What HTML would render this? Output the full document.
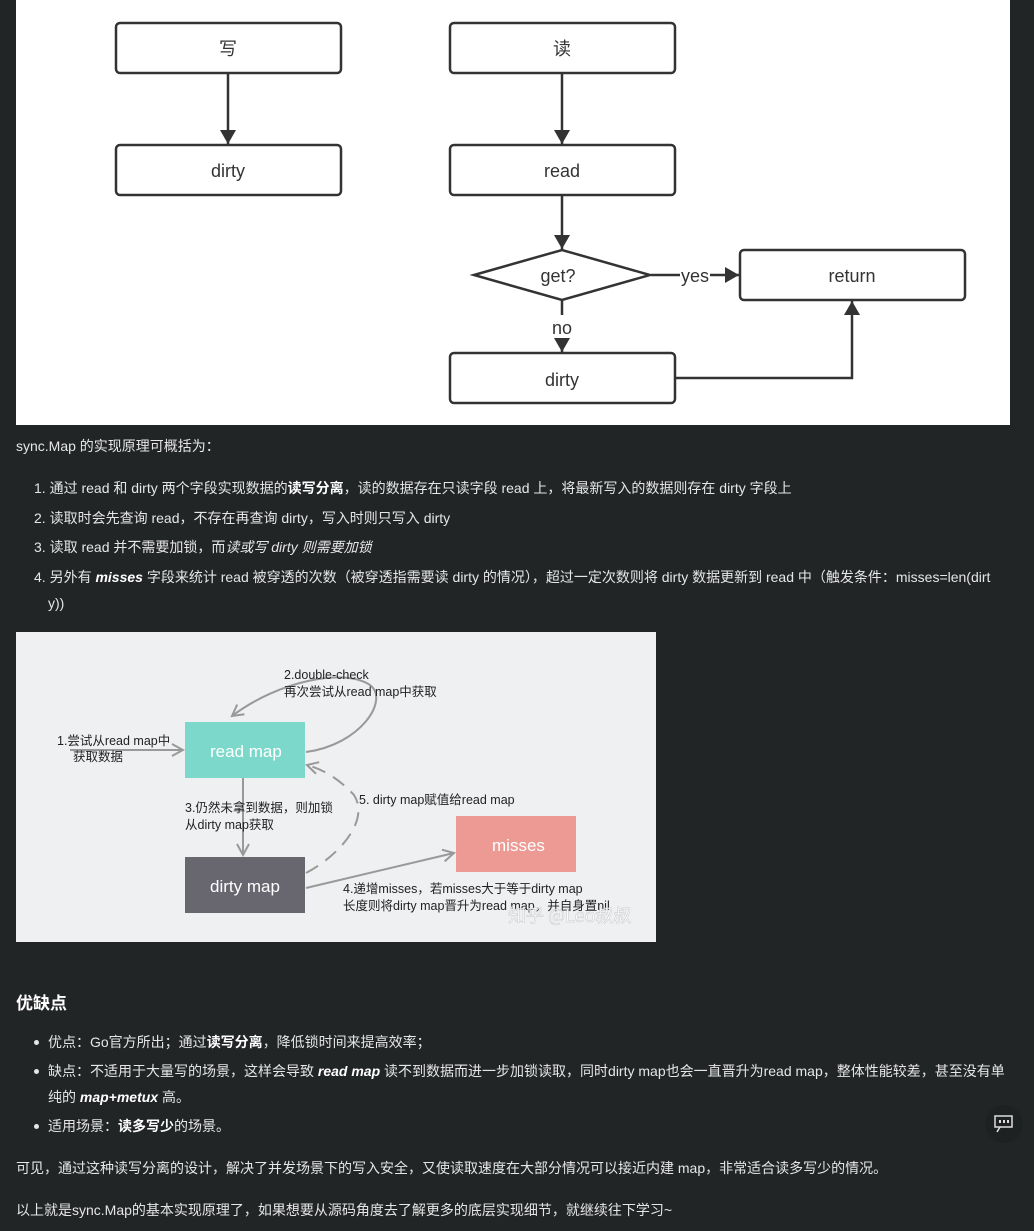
<!DOCTYPE html>
<html><head><meta charset="utf-8"><style>
body{margin:0;background:#222526;width:1034px;height:1231px;overflow:hidden;position:relative;font-family:"Liberation Sans","Noto Sans CJK SC",sans-serif;color:#e6e6e6;font-size:14px}
.t{position:absolute;white-space:nowrap;line-height:20px}
b{color:#fff}
.dot{position:absolute;width:5px;height:5px;border-radius:50%;background:#e6e6e6}
</style></head><body>
<svg style="position:absolute;left:0;top:0" width="1034" height="960">
<defs>
<marker id="a" markerWidth="14" markerHeight="18" refX="14" refY="8" orient="auto" markerUnits="userSpaceOnUse"><path d="M0,0 L14,8 L0,16z" fill="#333"/></marker>
<marker id="g" markerWidth="14" markerHeight="14" refX="12" refY="7" orient="auto" markerUnits="userSpaceOnUse"><path d="M1,1 L12,7 L1,13" fill="none" stroke="#999" stroke-width="2"/></marker>
</defs>
<rect x="16" y="0" width="994" height="425" fill="#fff"/>
<g fill="#fff" stroke="#333" stroke-width="2.5">
<rect x="116" y="23" width="225" height="50" rx="4"/>
<rect x="116" y="145" width="225" height="50" rx="4"/>
<rect x="450" y="23" width="225" height="50" rx="4"/>
<rect x="450" y="145" width="225" height="50" rx="4"/>
<rect x="740" y="250" width="225" height="50" rx="4"/>
<rect x="450" y="353" width="225" height="50" rx="4"/>
<path d="M474,275 L562,250 L650,275 L562,300z"/>
</g>
<g stroke="#333" stroke-width="2.5" fill="none">
<line x1="228" y1="74" x2="228" y2="144" marker-end="url(#a)"/>
<line x1="562" y1="74" x2="562" y2="144" marker-end="url(#a)"/>
<line x1="562" y1="196" x2="562" y2="249" marker-end="url(#a)"/>
<line x1="651" y1="275" x2="680" y2="275"/>
<line x1="710" y1="275" x2="739" y2="275" marker-end="url(#a)"/>
<line x1="562" y1="301" x2="562" y2="315"/>
<line x1="562" y1="340" x2="562" y2="352" marker-end="url(#a)"/>
<polyline points="676,378 852,378 852,301" marker-end="url(#a)"/>
</g>
<g font-size="18" fill="#333" text-anchor="middle" font-family="Liberation Sans,Noto Sans CJK SC,sans-serif">
<text x="228" y="55">写</text><text x="228" y="177">dirty</text>
<text x="562" y="55">读</text><text x="562" y="177">read</text>
<text x="558" y="282">get?</text><text x="852" y="282">return</text>
<text x="562" y="386">dirty</text>
<text x="695" y="282">yes</text><text x="562" y="334">no</text>
</g>
<rect x="16" y="632" width="640" height="310" fill="#eff0f2"/>
<rect x="185" y="722" width="120" height="56" fill="#7dd8cc"/>
<rect x="185" y="857" width="120" height="56" fill="#686770"/>
<rect x="456" y="816" width="120" height="56" fill="#ed9a94"/>
<g stroke="#999" stroke-width="2" fill="none">
<line x1="70" y1="750" x2="183" y2="750" marker-end="url(#g)"/>
<path d="M306,752 C360,745 390,700 370,685 C345,668 280,680 232,716" marker-end="url(#g)"/>
<line x1="243" y1="778" x2="243" y2="855" marker-end="url(#g)"/>
<path d="M306,873 C340,855 370,820 354,795 C340,780 325,770 307,765" stroke-dasharray="14,9" marker-end="url(#g)"/>
<line x1="306" y1="888" x2="454" y2="853" marker-end="url(#g)"/>
</g>
<g font-size="17" fill="#fff" font-family="Liberation Sans,sans-serif">
<text x="210" y="757">read map</text><text x="210" y="892">dirty map</text><text x="492" y="851">misses</text>
</g>
<g font-size="12.5" fill="#222" font-family="Liberation Sans,Noto Sans CJK SC,sans-serif">
<text x="284" y="679">2.double-check</text><text x="284" y="696">再次尝试从read map中获取</text>
<text x="57" y="745">1.尝试从read map中</text><text x="73" y="761">获取数据</text>
<text x="185" y="812">3.仍然未拿到数据，则加锁</text><text x="185" y="829">从dirty map获取</text>
<text x="359" y="804">5. dirty map赋值给read map</text>
<text x="343" y="893">4.递增misses，若misses大于等于dirty map</text><text x="343" y="910">长度则将dirty map晋升为read map，并自身置nil</text>
</g>
<text x="508" y="922" font-size="18" fill="#fff" opacity="0.9" stroke="#bbb" stroke-width="0.4" font-family="Noto Sans CJK SC,sans-serif">知乎 @Leo叔叔</text>
</svg>
<div class="t" style="left:16px;top:436px">sync.Map 的实现原理可概括为：</div>
<div class="t" style="left:34px;top:478px">1. 通过 read 和 dirty 两个字段实现数据的<b>读写分离</b>，读的数据存在只读字段 read 上，将最新写入的数据则存在 dirty 字段上</div>
<div class="t" style="left:34px;top:508px">2. 读取时会先查询 read，不存在再查询 dirty，写入时则只写入 dirty</div>
<div class="t" style="left:34px;top:537px">3. 读取 read 并不需要加锁，而<i>读或写 dirty 则需要加锁</i></div>
<div class="t" style="left:34px;top:567px">4. 另外有 <b><i>misses</i></b> 字段来统计 read 被穿透的次数（被穿透指需要读 dirty 的情况），超过一定次数则将 dirty 数据更新到 read 中（触发条件：misses=len(dirt</div>
<div class="t" style="left:48px;top:593px">y))</div>
<div class="t" style="left:16px;top:994px;font-size:17px;font-weight:bold;color:#fff">优缺点</div>
<div class="dot" style="left:34px;top:1040px"></div>
<div class="t" style="left:48px;top:1032px">优点：Go官方所出；通过<b>读写分离</b>，降低锁时间来提高效率；</div>
<div class="dot" style="left:34px;top:1069px"></div>
<div class="t" style="left:48px;top:1061px">缺点：不适用于大量写的场景，这样会导致 <b><i>read map</i></b> 读不到数据而进一步加锁读取，同时dirty map也会一直晋升为read map，整体性能较差，甚至没有单</div>
<div class="t" style="left:48px;top:1087px">纯的 <b><i>map+metux</i></b> 高。</div>
<div class="dot" style="left:34px;top:1124px"></div>
<div class="t" style="left:48px;top:1116px">适用场景：<b>读多写少</b>的场景。</div>
<div class="t" style="left:16px;top:1158px">可见，通过这种读写分离的设计，解决了并发场景下的写入安全，又使读取速度在大部分情况可以接近内建 map，非常适合读多写少的情况。</div>
<div class="t" style="left:16px;top:1200px">以上就是sync.Map的基本实现原理了，如果想要从源码角度去了解更多的底层实现细节，就继续往下学习~</div>
<div style="position:absolute;left:985px;top:1105px;width:38px;height:38px;border-radius:50%;background:#1e2122"></div>
<svg style="position:absolute;left:994px;top:1115px" width="20" height="20"><rect x="1" y="1" width="17" height="11" fill="none" stroke="#ddd" stroke-width="1.5"/><path d="M6,12 L3,17" stroke="#ddd" stroke-width="1.5"/><rect x="5" y="5" width="2" height="3" fill="#ddd"/><rect x="9" y="5" width="2" height="3" fill="#ddd"/><rect x="13" y="5" width="2" height="3" fill="#ddd"/></svg>
</body></html>
